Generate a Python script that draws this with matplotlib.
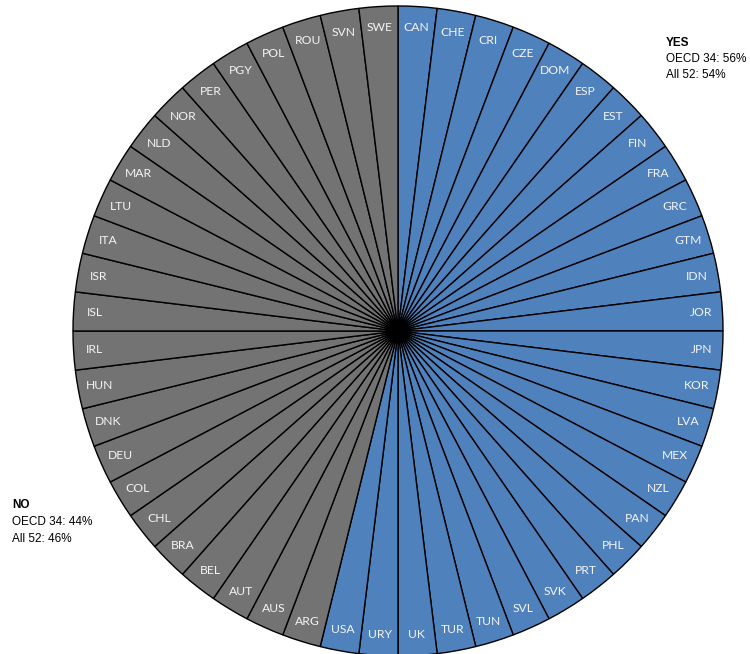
import matplotlib.pyplot as plt

yes_countries = ["CAN", "CHE", "CRI", "CZE", "DOM", "ESP", "EST", "FIN", "FRA",
                 "GRC", "GTM", "IDN", "JOR", "JPN", "KOR", "LVA", "MEX", "NZL",
                 "PAN", "PHL", "PRT", "SVK", "SVL", "TUN", "TUR", "UK", "URY", "USA"]
no_countries = ["ARG", "AUS", "AUT", "BEL", "BRA", "CHL", "COL", "DEU", "DNK",
                "HUN", "IRL", "ISL", "ISR", "ITA", "LTU", "MAR", "NLD", "NOR",
                "PER", "PGY", "POL", "ROU", "SVN", "SWE"]

yes_text = ["YES", "OECD 34: 56%", "All 52: 54%"]
no_text = ["NO", "OECD 34: 44%", "All 52: 46%"]

blue = "#4F81BD"
gray = "#737373"

labels = yes_countries + no_countries
sizes = [1] * len(labels)
colors = [blue] * len(yes_countries) + [gray] * len(no_countries)

fig = plt.figure(figsize=(7.5, 6.54), dpi=100)
# pie sits off-centre and slightly cut at the bottom
ax = fig.add_axes([73 / 750, -2 / 654, 650 / 750, 650 / 654])
wedges, texts = ax.pie(sizes, labels=labels, colors=colors, startangle=90,
                       counterclock=False, labeldistance=0.935, radius=1,
                       wedgeprops=dict(edgecolor="black", linewidth=1),
                       textprops=dict(color="#f4f4f4", fontsize=8.7,
                                      family=["Lato", "DejaVu Sans"]))
for t in texts:
    t.set_ha("center")
    t.set_va("center")
ax.set_xlim(-1, 1)
ax.set_ylim(-1, 1)
ax.set_aspect("equal")
ax.axis("off")

side = ["Liberation Sans", "DejaVu Sans"]
fig.text(666 / 750, 1 - 43 / 654, yes_text[0], fontsize=8.5, fontweight="bold",
         family=side, va="center", ha="left")
fig.text(666 / 750, 1 - 59 / 654, yes_text[1], fontsize=8.5, family=side,
         va="center", ha="left")
fig.text(666 / 750, 1 - 75 / 654, yes_text[2], fontsize=8.5, family=side,
         va="center", ha="left")

fig.text(12 / 750, 1 - 505 / 654, no_text[0], fontsize=8.5, fontweight="bold",
         family=side, va="center", ha="left")
fig.text(12 / 750, 1 - 522 / 654, no_text[1], fontsize=8.5, family=side,
         va="center", ha="left")
fig.text(12 / 750, 1 - 539 / 654, no_text[2], fontsize=8.5, family=side,
         va="center", ha="left")

fig.savefig("out.png", dpi=100)
